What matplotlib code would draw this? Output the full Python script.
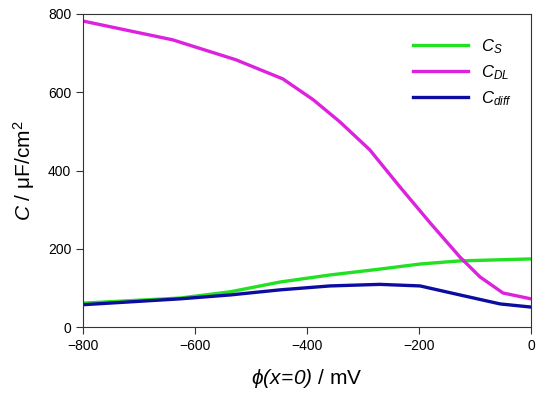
import matplotlib
matplotlib.use('Agg')
import matplotlib.pyplot as plt
from matplotlib.lines import Line2D

plt.rcParams['font.family'] = ['Liberation Sans', 'DejaVu Sans']
plt.rcParams['mathtext.fontset'] = 'custom'
# rm italic so digits inside math come out slanted; sf stays upright
plt.rcParams['mathtext.it'] = 'Liberation Sans:italic'
plt.rcParams['mathtext.rm'] = 'Liberation Sans:italic'
plt.rcParams['mathtext.sf'] = 'Liberation Sans'

# potential phi(x=0) in mV
phi_dl = [-800, -640, -527, -443, -389, -341, -288, -234, -180, -127, -91, -50, 0]
c_dl = [782, 734, 683, 634, 581, 524, 453, 358, 266, 179, 128, 87, 72]

phi_s = [-800, -627, -537, -448, -359, -270, -198, -127, 0]
c_s = [61, 74, 90, 115, 133, 148, 161, 169, 174]

phi_diff = [-800, -627, -537, -448, -359, -270, -198, -127, -55, 0]
c_diff = [57, 72, 82, 95, 105, 109, 105, 82, 59, 51]

col_s = '#22e022'
col_dl = '#dd22dd'
col_diff = '#0c0ca0'

fig = plt.figure(figsize=(5.4, 3.94), dpi=100)
ax = fig.add_axes([0.1537, 0.170, 0.8296, 0.7945])

ax.plot(phi_s, c_s, color=col_s, lw=2.4)
ax.plot(phi_dl, c_dl, color=col_dl, lw=2.4)
ax.plot(phi_diff, c_diff, color=col_diff, lw=2.4)

ax.set_xlim(-800, 0)
ax.set_ylim(0, 800)
ax.set_xticks([-800, -600, -400, -200, 0])
ax.set_yticks([0, 200, 400, 600, 800])
ax.tick_params(direction='out', length=5, width=0.8, labelsize=10, color='#333333')
ax.tick_params(top=False, right=False)
for s in ax.spines.values():
    s.set_color('#333333')
    s.set_linewidth(0.8)

ax.set_xlabel(r'$\phi(x\!=\!0)$ $\mathsf{/\ mV}$', fontsize=15, labelpad=10)
ax.set_ylabel(r'$C$ $\mathsf{/\ \mu F/cm^2}$', fontsize=15, labelpad=8)

handles = [Line2D([], [], color=col_s, lw=2.4),
           Line2D([], [], color=col_dl, lw=2.4),
           Line2D([], [], color=col_diff, lw=2.4)]
labels = [r'$C_S$', r'$C_{DL}$', r'$C_{diff}$']
ax.legend(handles, labels, loc='upper right', frameon=False, fontsize=12,
          handlelength=3.3, handletextpad=0.8, labelspacing=0.45,
          bbox_to_anchor=(0.99, 0.975))

fig.savefig('out.png', dpi=100)
